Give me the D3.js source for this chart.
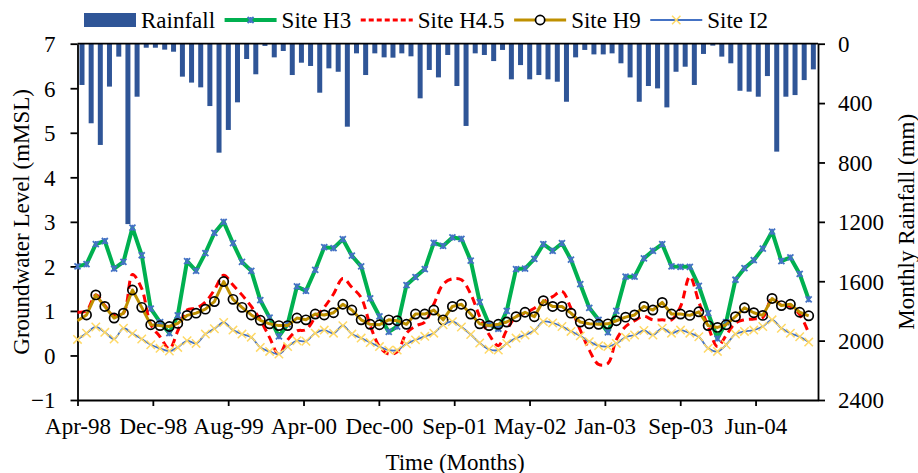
<!DOCTYPE html>
<html>
<head>
<meta charset="utf-8">
<script src="https://cdn.jsdelivr.net/npm/d3@7"></script>
<style>
  html, body { margin: 0; padding: 0; background: #fff; }
  svg { display: block; font-family: "Liberation Serif", "Times New Roman", serif; }
</style>
</head>
<body>
<svg id="chart" width="918" height="473"></svg>
<script>
// ---- Data: monthly record, Apr 1998 – Dec 2004 ----
const firstMonth = new Date(1998, 3, 1);
const axisEnd = new Date(2005, 0, 1);
const months = d3.timeMonth.range(firstMonth, axisEnd); // 81 months

// Monthly rainfall (mm)
const rainfall = [
  278, 536, 682, 289, 87, 1215, 357, 27, 27, 40,
  54, 222, 262, 294, 420, 734, 581, 395, 103, 206,
  15, 92, 49, 211, 128, 150, 330, 166, 189, 559,
  65, 211, 65, 92, 94, 65, 85, 368, 177, 227,
  76, 285, 554, 65, 76, 117, 42, 240, 144, 240,
  211, 240, 256, 391, 92, 42, 72, 72, 65, 132,
  227, 391, 285, 301, 429, 189, 155, 278, 69, 13,
  87, 132, 317, 323, 357, 218, 727, 357, 346, 245,
  173
];

// Groundwater levels (mMSL)
const siteH3 = [
  2.0, 2.05, 2.5, 2.57, 1.95, 2.1, 2.87, 2.25, 1.05, 0.75,
  0.5, 0.9, 2.12, 1.9, 2.3, 2.75, 3.0, 2.52, 2.1, 1.9,
  1.24, 0.85, 0.43, 0.7, 1.55, 1.45, 1.92, 2.43, 2.41, 2.61,
  2.24, 2.0, 1.28, 0.88, 0.53, 0.65, 1.58, 1.76, 1.94, 2.53,
  2.46, 2.65, 2.62, 2.13, 1.2, 0.7, 0.6, 1.0, 1.94, 1.95,
  2.17, 2.5, 2.35, 2.52, 2.15, 1.6, 1.07, 0.8, 0.52, 1.0,
  1.77, 1.77, 2.18, 2.35, 2.5, 2.0, 1.99, 1.99, 1.56, 0.95,
  0.38, 0.75, 1.7, 1.96, 2.14, 2.4, 2.78, 2.12, 2.2, 1.83,
  1.26
];
const siteH45 = [
  0.97, 1.0, 1.36, 1.12, 0.9, 0.95, 1.82, 1.5, 0.7, 0.42,
  0.15, 0.55, 1.02, 1.06, 1.2, 1.47, 1.8, 1.58, 1.36, 1.1,
  0.8, 0.4, 0.02, 0.35, 0.55, 0.58, 0.85, 1.08, 1.38, 1.73,
  1.53, 1.3, 0.68, 0.2, 0.03, 0.08, 0.5, 0.66, 0.75, 1.15,
  1.6, 1.72, 1.7, 1.38, 0.87, 0.47, 0.22, 0.57, 0.87, 0.95,
  1.06, 1.2, 1.32, 1.44, 1.06, 0.57, 0.12, -0.2, -0.18, 0.35,
  0.65, 0.78, 0.88, 0.8, 0.8, 0.8, 1.1, 1.77, 1.2, 0.65,
  0.2, 0.45, 0.73, 0.8, 0.82, 0.85, 1.28, 1.13, 1.1, 0.92,
  0.5
];
const siteH9 = [
  0.78, 0.91, 1.36, 1.1, 0.84, 0.95, 1.47, 1.08, 0.69, 0.67,
  0.65, 0.72, 0.9, 0.95, 1.04, 1.21, 1.66, 1.26, 1.08, 0.91,
  0.79, 0.71, 0.67, 0.67, 0.84, 0.8, 0.93, 0.91, 0.96, 1.15,
  1.02, 0.8, 0.7, 0.69, 0.8, 0.78, 0.7, 0.93, 0.93, 1.02,
  0.8, 1.1, 1.15, 0.93, 0.71, 0.67, 0.7, 0.75, 0.87, 0.97,
  0.87, 1.23, 1.1, 1.1, 0.95, 0.75, 0.71, 0.7, 0.71, 0.78,
  0.86, 0.91, 1.1, 1.02, 1.19, 0.93, 0.93, 0.9, 0.98, 0.67,
  0.63, 0.69, 0.87, 1.07, 0.96, 0.9, 1.28, 1.12, 1.15, 0.97,
  0.89
];
const siteI2 = [
  0.36, 0.5, 0.64, 0.52, 0.37, 0.61, 0.49, 0.37, 0.24, 0.16,
  0.1, 0.18, 0.33, 0.27, 0.48, 0.6, 0.74, 0.57, 0.48, 0.41,
  0.18, 0.09, 0.03, 0.2, 0.33, 0.32, 0.5, 0.57, 0.5, 0.67,
  0.48, 0.39, 0.29, 0.2, 0.12, 0.12, 0.26, 0.35, 0.43, 0.5,
  0.69, 0.76, 0.64, 0.47, 0.28, 0.14, 0.12, 0.27, 0.39, 0.46,
  0.56, 0.76, 0.73, 0.65, 0.54, 0.44, 0.31, 0.22, 0.2, 0.27,
  0.41, 0.46, 0.56, 0.46, 0.61, 0.5, 0.57, 0.5, 0.42, 0.16,
  0.09, 0.24, 0.48, 0.54, 0.57, 0.65, 0.8, 0.61, 0.5, 0.42,
  0.3
];

// Axis ticks
const timeTickLabels = ["Apr-98", "Dec-98", "Aug-99", "Apr-00", "Dec-00",
                        "Sep-01", "May-02", "Jan-03", "Sep-03", "Jun-04"];
const timeTickStepDays = 251;
const levelTicks = [-1, 0, 1, 2, 3, 4, 5, 6, 7];
const rainTicks = [0, 400, 800, 1200, 1600, 2000, 2400];

// ---- Layout ----
const FONT = 23;
const plot = { left: 77.5, right: 818, top: 43.7, bottom: 400 };
const svg = d3.select("#chart");

const x = d3.scaleTime().domain([firstMonth, axisEnd]).range([plot.left, plot.right]);
const yL = d3.scaleLinear().domain([-1, 7]).range([plot.bottom, plot.top]);
const yR = d3.scaleLinear().domain([0, 2400]).range([plot.top, plot.bottom]);

const COL = {
  rain: "#2F5597",
  h3: "#00B050",
  h3mark: "#4472C4",
  h45: "#FF0000",
  h9: "#BF9000",
  i2: "#4472C4",
  i2mark: "#FFD966"
};

// ---- Rainfall bars hanging from the top axis ----
const barW = 5;
svg.append("g").selectAll("rect")
  .data(rainfall)
  .join("rect")
  .attr("x", (d, i) => (x(months[i]) + x(d3.timeMonth.offset(months[i], 1))) / 2 - barW / 2)
  .attr("y", yR(0))
  .attr("width", barW)
  .attr("height", d => yR(d) - yR(0))
  .attr("fill", COL.rain);

// ---- Axes ----
function styleAxis(g) {
  g.selectAll("path.domain").attr("stroke", "#000").attr("stroke-width", 1.8);
  g.selectAll(".tick line").attr("stroke", "#000").attr("stroke-width", 1.8);
  g.selectAll("text").attr("font-size", FONT).attr("fill", "#000")
    .attr("font-family", '"Liberation Serif", "Times New Roman", serif');
}

// top line (zero of rainfall)
svg.append("line")
  .attr("x1", plot.left).attr("x2", plot.right)
  .attr("y1", plot.top).attr("y2", plot.top)
  .attr("stroke", "#000").attr("stroke-width", 1.8);

const timeTicks = timeTickLabels.map((_, k) => d3.timeDay.offset(firstMonth, k * timeTickStepDays));
const gx = svg.append("g")
  .attr("transform", `translate(0,${plot.bottom})`)
  .call(d3.axisBottom(x).tickValues(timeTicks)
    .tickFormat((d, i) => timeTickLabels[i])
    .tickSize(6).tickSizeOuter(0));
styleAxis(gx);
gx.selectAll("text").attr("y", 33.5).attr("dy", null);

const gl = svg.append("g")
  .attr("transform", `translate(${plot.left},0)`)
  .call(d3.axisLeft(yL).tickValues(levelTicks).tickFormat(d3.format("d"))
    .tickSize(7).tickSizeOuter(0).tickPadding(15));
styleAxis(gl);
gl.selectAll("text").attr("dy", "0.34em");

const gr = svg.append("g")
  .attr("transform", `translate(${plot.right},0)`)
  .call(d3.axisRight(yR).tickValues(rainTicks).tickFormat(d3.format("d"))
    .tickSize(7).tickSizeOuter(0).tickPadding(13));
styleAxis(gr);
gr.selectAll("text").attr("dy", "0.34em");

// ---- Axis titles ----
svg.append("text")
  .attr("transform", `translate(28.5,${(plot.top + plot.bottom) / 2}) rotate(-90)`)
  .attr("text-anchor", "middle").attr("font-size", FONT)
  .text("Groundwater Level (mMSL)");
svg.append("text")
  .attr("transform", `translate(914,${(plot.top + plot.bottom) / 2}) rotate(-90)`)
  .attr("text-anchor", "middle").attr("font-size", FONT)
  .text("Monthly Rainfall (mm)");
svg.append("text")
  .attr("x", 455).attr("y", 469.5)
  .attr("text-anchor", "middle").attr("font-size", FONT)
  .text("Time (Months)");

// ---- Marker shapes ----
const starPath = s => `M${-s},${-s}L${s},${s}M${-s},${s}L${s},${-s}M0,${-s}L0,${s}`;
const crossPath = s => `M${-s},${-s}L${s},${s}M${-s},${s}L${s},${-s}`;

const px = i => x(months[i]);

// ---- Groundwater series ----
// skipFirst: the opening reading of H9 is plotted on the line only
const series = [
  { name: "Site H3", values: siteH3, color: COL.h3, width: 4, dash: null, curve: d3.curveLinear,
    marker: { type: "star", color: COL.h3mark } },
  { name: "Site H4.5", values: siteH45, color: COL.h45, width: 3, dash: "8,5", curve: d3.curveCatmullRom,
    marker: null },
  { name: "Site H9", values: siteH9, color: COL.h9, width: 3, dash: null, curve: d3.curveLinear,
    marker: { type: "circle", color: "#000", skipFirst: true } },
  { name: "Site I2", values: siteI2, color: COL.i2, width: 1.8, dash: null, curve: d3.curveCatmullRom,
    marker: { type: "cross", color: COL.i2mark } }
];

const gSeries = svg.append("g");
series.forEach(s => {
  const line = d3.line().x((d, i) => px(i)).y(d => yL(d)).curve(s.curve);
  gSeries.append("path")
    .datum(s.values)
    .attr("d", line)
    .attr("fill", "none")
    .attr("stroke", s.color)
    .attr("stroke-width", s.width)
    .attr("stroke-linejoin", "round")
    .attr("stroke-dasharray", s.dash);
  if (!s.marker) return;
  const pts = s.values.map((v, i) => ({ v, i })).filter(p => !(s.marker.skipFirst && p.i === 0));
  const mg = gSeries.append("g");
  if (s.marker.type === "circle") {
    mg.selectAll("circle").data(pts).join("circle")
      .attr("cx", p => px(p.i)).attr("cy", p => yL(p.v)).attr("r", 4.6)
      .attr("fill", "none").attr("stroke", s.marker.color).attr("stroke-width", 1.7);
  } else {
    const shape = s.marker.type === "star" ? starPath(3) : crossPath(4.2);
    mg.selectAll("path").data(pts).join("path")
      .attr("transform", p => `translate(${px(p.i)},${yL(p.v)})`)
      .attr("d", shape).attr("fill", "none")
      .attr("stroke", s.marker.color).attr("stroke-width", s.marker.type === "star" ? 1.8 : 1.5);
  }
});

// ---- Legend ----
const legend = svg.append("g").attr("font-size", FONT);
const legendItems = [{ name: "Rainfall", kind: "bar" }].concat(series.map(s => ({ name: s.name, kind: "line", s })));
let lx = 84;
const ly = 20, symW = 52;
legendItems.forEach(item => {
  const g = legend.append("g");
  if (item.kind === "bar") {
    g.append("rect").attr("x", lx).attr("y", ly - 7).attr("width", symW).attr("height", 14)
      .attr("fill", COL.rain);
  } else {
    const s = item.s;
    g.append("line").attr("x1", lx).attr("x2", lx + symW).attr("y1", ly).attr("y2", ly)
      .attr("stroke", s.color).attr("stroke-width", s.width < 2 ? 2 : s.width)
      .attr("stroke-dasharray", s.dash ? "5,3" : null);
    const cx = lx + symW / 2;
    if (s.marker) {
      if (s.marker.type === "circle") {
        g.append("circle").attr("cx", cx).attr("cy", ly).attr("r", 4.6)
          .attr("fill", "#fff").attr("stroke", "#000").attr("stroke-width", 1.7);
      } else {
        g.append("path").attr("transform", `translate(${cx},${ly})`)
          .attr("d", s.marker.type === "star" ? starPath(3) : crossPath(4.2))
          .attr("fill", "none").attr("stroke", s.marker.color)
          .attr("stroke-width", s.marker.type === "star" ? 1.8 : 1.5);
      }
    }
  }
  const t = g.append("text").attr("x", lx + symW + 5).attr("y", ly + 7.5).text(item.name);
  lx += symW + 5 + t.node().getComputedTextLength() + 9.5;
});
</script>
</body>
</html>
